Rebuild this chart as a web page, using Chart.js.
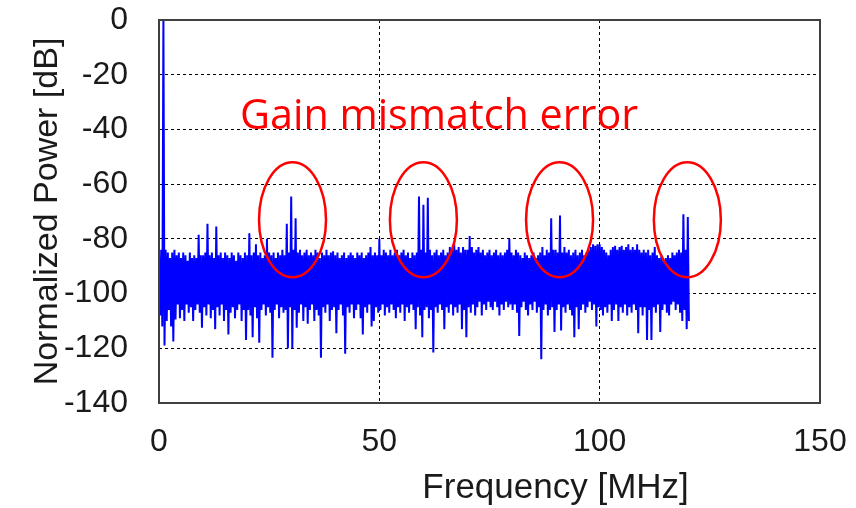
<!DOCTYPE html>
<html>
<head>
<meta charset="utf-8">
<title>Gain mismatch spectrum</title>
<script src="https://cdn.jsdelivr.net/npm/chart.js@4.4.1/dist/chart.umd.min.js"></script>
<style>
  html, body { margin: 0; padding: 0; background: #fff; }
  #wrap { width: 856px; height: 508px; position: relative; }
</style>
</head>
<body>
<div id="wrap"><canvas id="spectrum"></canvas></div>
<script>
// Spectrum in 0.5 MHz bins (0 ... 120 MHz).
// For each bin: upper envelope (peaks) and lower envelope (dips), in dB.
const BIN_MHZ = 0.5;

const peakDb = [
  // 0 - 9.5
  -86, -84, 0, -84, -85, -87, -85, -84, -86, -85, -87, -85, -86, -88, -85, -87, -86, -87, -78.5, -86,
  // 10 - 19.5
  -86, -85, -74.5, -86, -85, -87, -75.5, -86, -85, -87, -85, -86, -87, -85, -86, -88, -85, -86, -87, -85,
  // 20 - 29.5
  -86, -78, -86, -85, -82, -86, -85, -87, -86, -80, -85, -86, -85, -87, -85, -86, -84, -86, -74.5, -85,
  // 30 - 39.5
  -64.5, -84, -72.5, -85, -84, -86, -85, -84, -86, -85, -86, -84, -85, -87, -85, -86, -84, -86, -85, -84.5,
  // 40 - 49.5
  -86, -85, -87, -86, -85, -87, -86, -85, -86, -87, -85, -86, -85, -87, -86, -85, -83, -86, -85, -86,
  // 50 - 59.5
  -80, -86, -84, -85, -86, -84, -86, -85, -84, -86, -85, -84, -86, -85, -87, -85, -86, -85, -64.5, -84,
  // 60 - 69.5
  -67.5, -85, -65, -84, -86, -85, -84, -86, -85, -84, -86, -85, -83, -84, -82, -84, -83, -85, -83, -84,
  // 70 - 79.5
  -84, -79, -83, -85, -84, -83, -85, -84, -86, -85, -84, -86, -85, -84, -86, -85, -86, -85, -84, -80,
  // 80 - 89.5
  -85, -86, -84, -85, -86, -87, -85, -86, -87, -86, -85, -87, -86, -85, -83, -86, -84, -85, -72.5, -84,
  // 90 - 99.5
  -84, -85, -71.5, -85, -83, -85, -84, -86, -85, -84, -86, -85, -84, -86, -85, -84, -83, -82, -82.5, -82,
  // 100 - 109.5
  -82, -83, -84, -85, -86, -84, -83, -82.5, -84, -83, -82.5, -84, -83, -82, -84, -83, -84, -82, -84, -85,
  // 110 - 119.5
  -84, -85, -84, -86, -85, -83, -86, -87, -86, -88, -87, -86, -87, -85, -86, -85, -84, -85, -71, -84,
  // 120
  -72
];

const dipDb = [
  // 0 - 9.5
  -108, -112, -119, -110, -106, -112, -117.5, -109.5, -104, -109, -106, -110, -104, -107, -105, -110, -106, -104, -107, -112.5,
  // 10 - 19.5
  -105, -108, -104, -109, -106, -113, -105, -108, -104, -110, -106, -115, -107, -105, -109, -106, -104, -110, -106, -117,
  // 20 - 29.5
  -106, -108, -116, -105, -109, -118, -106, -104, -108, -105, -107, -123.5, -106, -104, -109, -105, -107, -106, -120, -105,
  // 30 - 39.5
  -120, -106, -112.5, -107, -104, -110, -105, -111, -106, -104, -110, -106, -108, -123.5, -105, -107, -104, -110, -106, -105,
  // 40 - 49.5
  -114.5, -106, -104, -108, -122, -105, -107, -104, -109, -106, -104, -109, -115, -105, -107, -104, -112, -110, -105, -107,
  // 50 - 59.5
  -106, -104, -108, -105, -107, -104, -106, -109, -105, -107, -104, -110, -105, -107, -104, -106, -113, -105, -108, -116,
  // 60 - 69.5
  -106, -105, -109, -106, -121.5, -105, -107, -104, -106, -113, -105, -107, -104, -108, -105, -107, -104, -113, -106, -116,
  // 70 - 79.5
  -105, -107, -104, -108, -105, -103, -108, -104, -106, -103, -105, -106, -103, -105, -108, -104, -106, -103, -105, -104,
  // 80 - 89.5
  -106, -104, -107, -115.5, -105, -103, -106, -108, -104, -106, -103, -107, -105, -124, -106, -104, -108, -106, -105, -114,
  // 90 - 99.5
  -106, -104, -113.5, -105, -107, -104, -106, -108, -116, -105, -113, -106, -104, -107, -105, -103, -106, -104, -112, -105,
  // 100 - 109.5
  -106, -108, -105, -107, -104, -110, -106, -104, -110, -105, -107, -104, -108, -105, -107, -104, -106, -114.5, -105, -108,
  // 110 - 119.5
  -105, -117, -106, -117, -105, -107, -104, -114, -106, -104, -107, -108, -104, -103, -106, -104, -107, -110, -106, -113,
  // 120
  -110
];

const xTicks = [0, 50, 100, 150];
const yTicks = [0, -20, -40, -60, -80, -100, -120, -140];

// Spur annotations (centre frequency in MHz)
const spurCentersMhz = [30.3, 60, 90.9, 119.9];
const spurCenterDb = -73;
const spurHalfWidthMhz = 7.6;
const spurHalfHeightDb = 21;

const noteText = "Gain mismatch error";
const xTitle = "Frequency [MHz]";
const yTitle = "Normalized Power [dB]";

// Build the zigzag trace: peak then dip inside every bin
const trace = [];
peakDb.forEach((p, i) => {
  const f = i * BIN_MHZ;
  trace.push({ x: f, y: p });
  trace.push({ x: f + BIN_MHZ / 2, y: dipDb[i] });
});

const tickFont = { family: "'Liberation Sans', Arial, sans-serif", size: 32 };

// frame, x title, red notes
const overlay = {
  id: "overlay",
  afterDraw(chart) {
    const { ctx, chartArea: a, scales } = chart;
    const xs = scales.x, ys = scales.y;
    ctx.save();

    ctx.strokeStyle = "#404040";
    ctx.lineWidth = 2;
    ctx.strokeRect(a.left, a.top, a.right - a.left, a.bottom - a.top);

    ctx.fillStyle = "#1a1a1a";
    ctx.font = "35px 'Liberation Sans', Arial, sans-serif";
    ctx.textAlign = "center";
    ctx.textBaseline = "middle";
    ctx.fillText(xTitle, a.left + (a.right - a.left) * 0.6, 488);

    // ellipses around the spurs
    ctx.strokeStyle = "#ff0000";
    ctx.lineWidth = 2.5;
    const ry = ys.getPixelForValue(spurCenterDb - spurHalfHeightDb) - ys.getPixelForValue(spurCenterDb);
    spurCentersMhz.forEach((c) => {
      const cx = xs.getPixelForValue(c);
      const rx = xs.getPixelForValue(c + spurHalfWidthMhz) - cx;
      ctx.beginPath();
      ctx.ellipse(cx, ys.getPixelForValue(spurCenterDb), rx, ry, 0, 0, Math.PI * 2);
      ctx.stroke();
    });

    // label, sized to span ~398px
    let size = 40;
    ctx.font = size + "px 'Open Sans', sans-serif";
    size = size * 398 / ctx.measureText(noteText).width;
    ctx.font = size.toFixed(1) + "px 'Open Sans', sans-serif";
    ctx.fillStyle = "#ff0000";
    ctx.textAlign = "left";
    ctx.textBaseline = "alphabetic";
    ctx.fillText(noteText, 240, 129);

    ctx.restore();
  },
};

new Chart(document.getElementById("spectrum"), {
  type: "line",
  data: {
    datasets: [
      {
        data: trace,
        borderColor: "#0000ff",
        borderWidth: 2,
        pointRadius: 0,
        tension: 0,
        fill: false,
      },
    ],
  },
  options: {
    responsive: true,
    maintainAspectRatio: false,
    animation: false,
    layout: { padding: { top: 20, right: 36, left: 0, bottom: 0 } },
    plugins: {
      legend: { display: false },
      tooltip: { enabled: false },
    },
    scales: {
      x: {
        type: "linear",
        min: 0,
        max: 150,
        afterBuildTicks: (s) => { s.ticks = xTicks.map((v) => ({ value: v })); },
        afterFit: (s) => {
          s.height = 105;
          s.paddingLeft = 0;
          s.paddingRight = 0;
        },
        ticks: { font: tickFont, color: "#1a1a1a", padding: 20, maxRotation: 0 },
        grid: { color: "#000", lineWidth: 1, drawTicks: false },
        border: { display: false, dash: [3, 3] },
      },
      y: {
        min: -140,
        max: 0,
        afterBuildTicks: (s) => { s.ticks = yTicks.map((v) => ({ value: v })); },
        afterFit: (s) => {
          s.width = 159;
          s.paddingTop = 0;
          s.paddingBottom = 0;
        },
        ticks: { font: tickFont, color: "#1a1a1a", padding: 31 },
        grid: { color: "#000", lineWidth: 1, drawTicks: false },
        border: { display: false, dash: [3, 3] },
        title: {
          display: true,
          text: yTitle,
          color: "#1a1a1a",
          font: { family: "'Liberation Sans', Arial, sans-serif", size: 34 },
          padding: { top: 27, bottom: 0 },
        },
      },
    },
  },
  plugins: [overlay],
});
</script>
</body>
</html>
